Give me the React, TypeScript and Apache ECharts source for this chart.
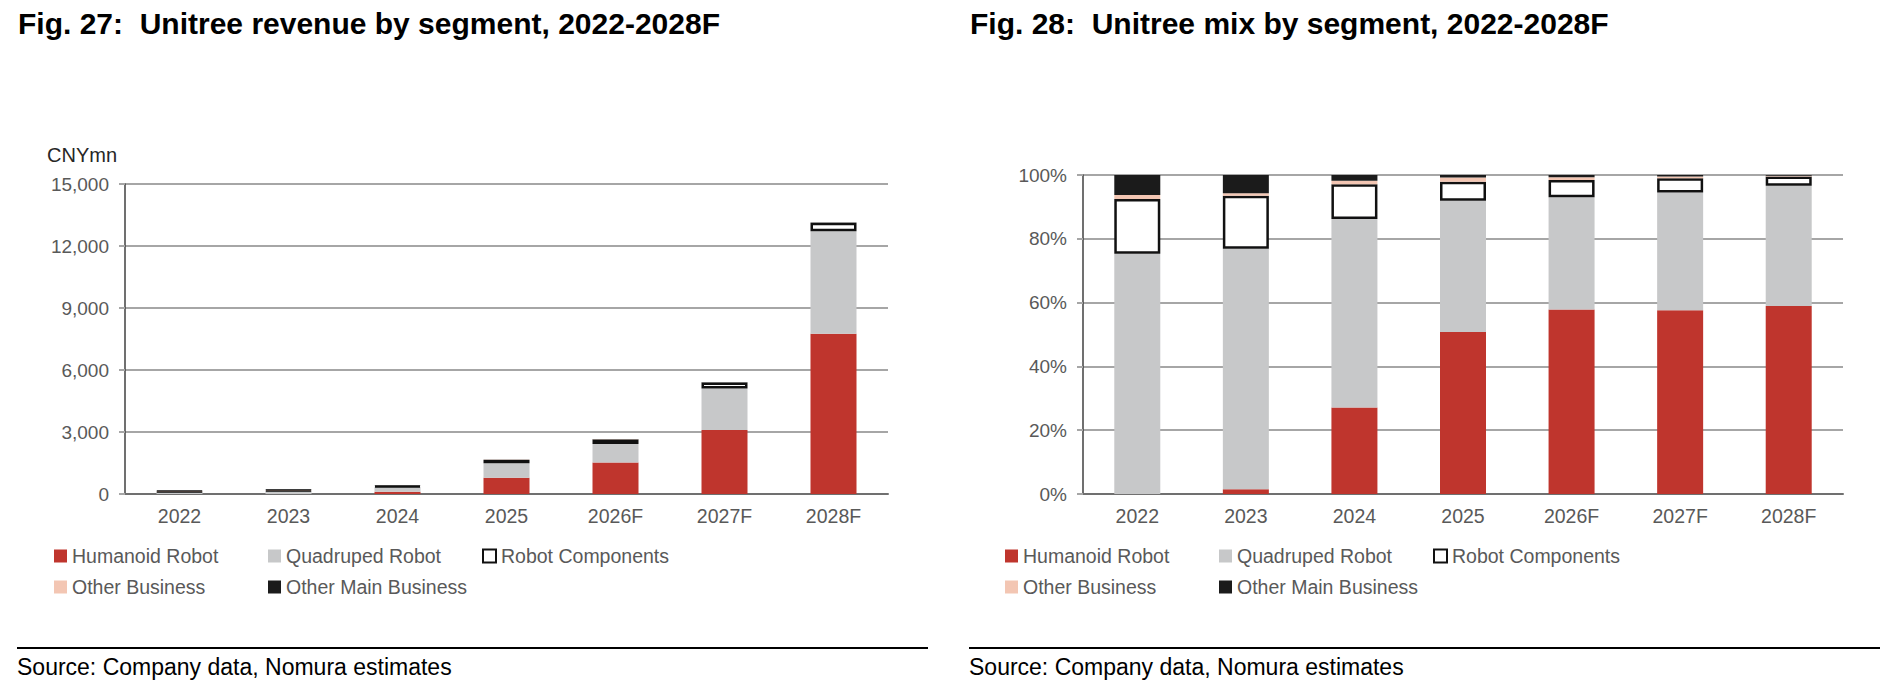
import { useEffect, useRef } from "react";
import * as echarts from "echarts";

const years = ["2022", "2023", "2024", "2025", "2026F", "2027F", "2028F"];
const segmentNames = [
  "Humanoid Robot",
  "Quadruped Robot",
  "Robot Components",
  "Other Business",
  "Other Main Business",
];

// Fig. 27: revenue by segment, CNYmn
const humanoidRev = [0, 3, 108, 790, 1520, 3100, 7760];
const quadrupedRev = [113, 150, 236, 700, 900, 2000, 4950];
const componentsRev = [26, 33, 45, 150, 220, 290, 410];
const otherBizRev = [2, 2, 3, 15, 15, 10, 10];
const otherMainRev = [9, 12, 7, 10, 10, 10, 10];

// Fig. 28: mix by segment, %
const humanoidMix = [0, 1.5, 27.1, 50.8, 57.8, 57.6, 58.9];
const quadrupedMix = [75.3, 75.4, 59.1, 41.1, 35.2, 36.9, 37.7];
const componentsMix = [17.2, 16.6, 10.9, 6.0, 5.4, 4.5, 2.9];
const otherBizMix = [1.2, 0.8, 1.1, 1.3, 0.9, 0.5, 0.3];
const otherMainMix = [6.3, 5.7, 1.8, 0.8, 0.7, 0.5, 0.2];

const revTicks = { min: 0, max: 15000, interval: 3000 };
const mixTicks = { min: 0, max: 100, interval: 20 };

const FONT = "'Liberation Sans', Arial, sans-serif";
const LABEL = "#595959";
const GRID_LINE = "#a6a6a6";

const segmentStyles = [
  { color: "#bf352d", borderWidth: 0 },
  { color: "#c7c8c9", borderWidth: 0 },
  { color: "#ffffff", borderColor: "#111111", borderWidth: 2.5 },
  { color: "#f3c6b3", borderWidth: 0 },
  { color: "#1b1b1b", borderWidth: 0 },
];

function makeSeries(values: number[][], axis: number, stack: string) {
  return values.map((v, i) => ({
    name: segmentNames[i],
    type: "bar" as const,
    stack,
    xAxisIndex: axis,
    yAxisIndex: axis,
    barWidth: 46,
    data: v,
    itemStyle: segmentStyles[i],
    emphasis: { disabled: true },
  }));
}

function makeLegends(left0: number) {
  const cols = [0, 214, 428];
  const pos = [
    [0, 0],
    [1, 0],
    [2, 0],
    [0, 1],
    [1, 1],
  ];
  return segmentNames.map((name, i) => ({
    data: [name],
    left: left0 + cols[pos[i][0]],
    top: pos[i][1] === 0 ? 546 : 577,
    padding: 0,
    itemWidth: 13,
    itemHeight: 13,
    icon: "rect",
    selectedMode: false,
    itemStyle:
      i === 2
        ? { color: "#ffffff", borderColor: "#111111", borderWidth: 2 }
        : { color: segmentStyles[i].color, borderWidth: 0 },
    textStyle: { color: LABEL, fontSize: 19.5, fontFamily: FONT, lineHeight: 20 },
  }));
}

function valueAxis(index: number, ticks: typeof revTicks, fmt: (v: number) => string) {
  return {
    type: "value" as const,
    gridIndex: index,
    ...ticks,
    axisLine: { show: true, lineStyle: { color: "#404040", width: 1.5 } },
    axisTick: { show: true, length: 6, lineStyle: { color: GRID_LINE, width: 2 } },
    axisLabel: {
      color: LABEL,
      fontSize: 19,
      fontFamily: FONT,
      margin: 16,
      formatter: fmt,
    },
    splitLine: { lineStyle: { color: GRID_LINE, width: 2 } },
  };
}

function categoryAxis(index: number) {
  return {
    type: "category" as const,
    gridIndex: index,
    data: years,
    axisLine: { lineStyle: { color: "#707070", width: 2 } },
    axisTick: { show: false },
    axisLabel: { color: LABEL, fontSize: 19.5, fontFamily: FONT, margin: 12 },
  };
}

export default function App() {
  const chartRef = useRef<HTMLDivElement>(null);

  useEffect(() => {
    if (!chartRef.current) return;
    const chart = echarts.init(chartRef.current, undefined, { renderer: "svg" });

    const option: echarts.EChartsOption = {
      animation: false,
      backgroundColor: "#ffffff",
      textStyle: { fontFamily: FONT },
      grid: [
        { left: 125, top: 184, width: 763, height: 310, outerBoundsMode: "none" } as any,
        { left: 1083, top: 175, width: 760, height: 319, outerBoundsMode: "none" } as any,
      ],
      xAxis: [categoryAxis(0), categoryAxis(1)],
      yAxis: [
        valueAxis(0, revTicks, (v) => v.toLocaleString("en-US")),
        valueAxis(1, mixTicks, (v) => v + "%"),
      ],
      legend: [...makeLegends(54), ...makeLegends(1005)],
      series: [
        ...makeSeries([humanoidRev, quadrupedRev, componentsRev, otherBizRev, otherMainRev], 0, "rev"),
        ...makeSeries([humanoidMix, quadrupedMix, componentsMix, otherBizMix, otherMainMix], 1, "mix"),
      ],
      graphic: [
        {
          type: "text",
          left: 18,
          top: 8,
          style: {
            text: "Fig. 27:  Unitree revenue by segment, 2022-2028F",
            font: `bold 30px ${FONT}`,
            fill: "#000000",
          },
        },
        {
          type: "text",
          left: 970,
          top: 8,
          style: {
            text: "Fig. 28:  Unitree mix by segment, 2022-2028F",
            font: `bold 30px ${FONT}`,
            fill: "#000000",
          },
        },
        {
          type: "text",
          left: 47,
          top: 145,
          style: { text: "CNYmn", font: `20px ${FONT}`, fill: "#262626" },
        },
        {
          type: "line",
          shape: { x1: 17, y1: 648, x2: 928, y2: 648 },
          style: { stroke: "#000000", lineWidth: 2 },
        },
        {
          type: "line",
          shape: { x1: 969, y1: 648, x2: 1880, y2: 648 },
          style: { stroke: "#000000", lineWidth: 2 },
        },
        {
          type: "text",
          left: 17,
          top: 655,
          style: {
            text: "Source: Company data, Nomura estimates",
            font: `23px ${FONT}`,
            fill: "#000000",
          },
        },
        {
          type: "text",
          left: 969,
          top: 655,
          style: {
            text: "Source: Company data, Nomura estimates",
            font: `23px ${FONT}`,
            fill: "#000000",
          },
        },
      ],
    };

    chart.setOption(option);
    return () => chart.dispose();
  }, []);

  return (
    <div
      ref={chartRef}
      style={{ position: "fixed", left: 0, top: 0, width: 1900, height: 698 }}
    />
  );
}
